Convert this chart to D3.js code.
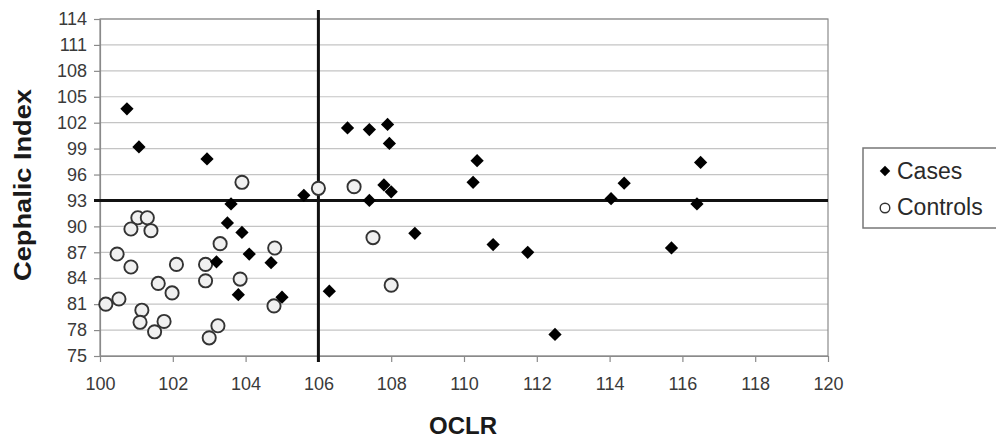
<!DOCTYPE html>
<html>
<head>
<meta charset="utf-8">
<script src="https://cdn.jsdelivr.net/npm/d3@7"></script>
<style>
  body { margin: 0; background: #fff; }
  svg { font-family: "Liberation Sans", Arial, Helvetica, sans-serif; }
</style>
</head>
<body>
<script>
// ********************** DATA **************************************************************
var casesX = [100.74, 101.07, 102.94, 103.6, 103.5, 103.9, 104.1, 103.2, 104.7, 103.8, 105.0, 106.3,
              105.6, 106.8, 107.4, 107.9, 107.95, 107.4, 107.8, 108.0, 108.65, 110.36, 110.25, 114.4,
              114.04, 110.8, 111.75, 112.5, 115.7, 116.5, 116.4];
var casesY = [103.6, 99.2, 97.8, 92.6, 90.4, 89.3, 86.8, 85.9, 85.8, 82.1, 81.8, 82.5,
              93.6, 101.4, 101.2, 101.8, 99.6, 93.0, 94.8, 94.0, 89.2, 97.6, 95.1, 95.0,
              93.2, 87.9, 87.0, 77.5, 87.5, 97.4, 92.6];

var controlsX = [103.9, 106.0, 106.98, 101.04, 101.3, 100.85, 101.4, 100.47, 100.85, 102.1, 102.9, 103.3,
                 104.8, 101.6, 101.98, 102.9, 103.85, 100.16, 100.52, 101.15, 101.1, 101.76, 101.5, 103.24,
                 103.0, 104.78, 107.5, 108.0];
var controlsY = [95.1, 94.4, 94.6, 91.0, 91.0, 89.7, 89.5, 86.8, 85.3, 85.6, 85.6, 88.0,
                 87.5, 83.4, 82.3, 83.7, 83.9, 81.0, 81.6, 80.3, 78.9, 79.0, 77.8, 78.5,
                 77.1, 80.8, 88.7, 83.2];

var xTicks = [100, 102, 104, 106, 108, 110, 112, 114, 116, 118, 120];
var yTicks = [75, 78, 81, 84, 87, 90, 93, 96, 99, 102, 105, 108, 111, 114];
var refX = 106;
var refY = 93;
var legendLabels = ["Cases", "Controls"];

// ********************** SETUP **************************************************************
var width = 996, height = 443;
var plotLeft = 100, plotRight = 828, plotTop = 19, plotBottom = 356;

var svg = d3.select("body").append("svg")
    .attr("width", width)
    .attr("height", height);

var x = d3.scaleLinear().domain([100, 120]).range([plotLeft, plotRight]);
var y = d3.scaleLinear().domain([75, 114]).range([plotBottom, plotTop]);

// gridlines
svg.append("g")
    .selectAll("line")
    .data(yTicks)
    .enter().append("line")
    .attr("x1", plotLeft)
    .attr("x2", plotRight)
    .attr("y1", d => y(d))
    .attr("y2", d => y(d))
    .attr("stroke", "#c4c4c4")
    .attr("stroke-width", 1.2);

// plot border
svg.append("rect")
    .attr("x", plotLeft)
    .attr("y", plotTop)
    .attr("width", plotRight - plotLeft)
    .attr("height", plotBottom - plotTop)
    .attr("fill", "none")
    .attr("stroke", "#8a8a8a")
    .attr("stroke-width", 1.2);

// axes
var yAxis = svg.append("g")
    .attr("transform", "translate(" + plotLeft + ",0)")
    .call(d3.axisLeft(y).tickValues(yTicks).tickSize(6).tickSizeOuter(0));
var xAxis = svg.append("g")
    .attr("transform", "translate(0," + plotBottom + ")")
    .call(d3.axisBottom(x).tickValues(xTicks).tickSize(6).tickSizeOuter(0).tickPadding(15));

[yAxis, xAxis].forEach(function(a) {
    a.select(".domain").attr("stroke", "#8a8a8a").attr("stroke-width", 1.2);
    a.selectAll(".tick line").attr("stroke", "#8a8a8a").attr("stroke-width", 1.2);
    a.selectAll("text")
        .style("font-size", "18px")
        .style("font-family", "\"Liberation Sans\", Arial, sans-serif")
        .attr("fill", "#3a3a3a");
});
yAxis.selectAll("text").attr("x", -13);

// reference lines
svg.append("line")
    .attr("x1", x(refX)).attr("x2", x(refX))
    .attr("y1", plotTop - 9).attr("y2", plotBottom + 6)
    .attr("stroke", "#111").attr("stroke-width", 3);
svg.append("line")
    .attr("x1", plotLeft - 6).attr("x2", plotRight)
    .attr("y1", y(refY)).attr("y2", y(refY))
    .attr("stroke", "#111").attr("stroke-width", 3);

// ********************** POINTS **************************************************************
var diamond = d3.symbol().type(d3.symbolDiamond2).size(112);

svg.append("g")
    .selectAll("circle")
    .data(d3.range(controlsX.length))
    .enter().append("circle")
    .attr("cx", i => x(controlsX[i]))
    .attr("cy", i => y(controlsY[i]))
    .attr("r", 6.6)
    .attr("fill", "#f0f0f0")
    .attr("stroke", "#333")
    .attr("stroke-width", 1.9);

svg.append("g")
    .selectAll("path")
    .data(d3.range(casesX.length))
    .enter().append("path")
    .attr("d", diamond)
    .attr("transform", i => "translate(" + x(casesX[i]) + "," + y(casesY[i]) + ")")
    .attr("fill", "#000");

// ********************** TITLES **************************************************************
svg.append("text")
    .attr("x", 463)
    .attr("y", 434)
    .attr("text-anchor", "middle")
    .text("OCLR")
    .style("font-size", "24px")
    .style("font-weight", "bold")
    .attr("fill", "#1a1a1a");

svg.append("text")
    .attr("transform", "translate(31,185) rotate(-90)")
    .attr("text-anchor", "middle")
    .attr("textLength", 192)
    .attr("lengthAdjust", "spacingAndGlyphs")
    .text("Cephalic Index")
    .style("font-size", "23px")
    .style("font-weight", "bold")
    .attr("fill", "#1a1a1a");

// ********************** LEGEND **************************************************************
var legend = svg.append("g").attr("transform", "translate(863,148)");

legend.append("rect")
    .attr("x", 0).attr("y", 0)
    .attr("width", 140).attr("height", 80)
    .attr("fill", "#fff")
    .attr("stroke", "#777")
    .attr("stroke-width", 1.5);

legend.append("path")
    .attr("d", d3.symbol().type(d3.symbolDiamond2).size(70))
    .attr("transform", "translate(22,23)")
    .attr("fill", "#000");
legend.append("circle")
    .attr("cx", 22).attr("cy", 60).attr("r", 4.8)
    .attr("fill", "#fff").attr("stroke", "#333").attr("stroke-width", 1.4);

legend.selectAll("text.lbl")
    .data(legendLabels)
    .enter().append("text")
    .attr("class", "lbl")
    .attr("x", 34)
    .attr("y", (d, i) => 31 + i * 36)
    .text(d => d)
    .style("font-size", "23px")
    .attr("fill", "#2a2a2a");
</script>
</body>
</html>
